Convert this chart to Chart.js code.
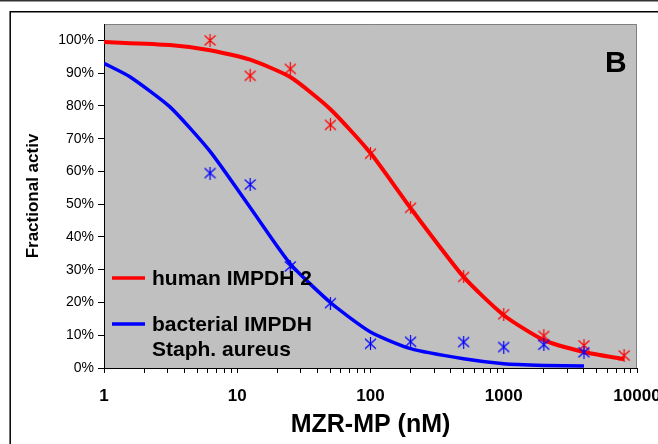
<!DOCTYPE html>
<html>
<head>
<meta charset="utf-8">
<script src="https://cdn.jsdelivr.net/npm/chart.js@4"></script>
<style>
  html, body { margin: 0; padding: 0; background: #fff; }
  #wrap { width: 658px; height: 444px; }
</style>
</head>
<body>
<div id="wrap"><canvas id="chart" width="658" height="444"></canvas></div>
<script>
// measured points (nM, fraction of activity)
const humanConc = [6.25, 12.5, 25, 50, 100, 200, 500, 1000, 2000, 4000, 8000];
const humanMeasured = [1.0, 0.892, 0.913, 0.742, 0.654, 0.489, 0.278, 0.164, 0.098, 0.069, 0.038];
const bactConc = [6.25, 12.5, 25, 50, 100, 200, 500, 1000, 2000, 4000];
const bactMeasured = [0.595, 0.56, 0.31, 0.198, 0.074, 0.08, 0.079, 0.064, 0.071, 0.048];

// fitted curves
const humanFitConc = [1, 3.125, 6.25, 12.5, 25, 50, 100, 200, 500, 1000, 2000, 4000, 8000];
const humanFit = [0.995, 0.986, 0.97, 0.941, 0.888, 0.79, 0.656, 0.488, 0.278, 0.161, 0.085, 0.049, 0.027];
const bactFitConc = [1, 1.5625, 3.125, 6.25, 12.5, 25, 50, 100, 200, 500, 1000, 2000, 4000];
const bactFit = [0.93, 0.889, 0.797, 0.661, 0.49, 0.318, 0.2, 0.11, 0.059, 0.028, 0.013, 0.008, 0.006];

const xTickLabels = [1, 10, 100, 1000, 10000];
const yTickValues = [0, 0.1, 0.2, 0.3, 0.4, 0.5, 0.6, 0.7, 0.8, 0.9, 1.0];
const yTickLabels = ['0%', '10%', '20%', '30%', '40%', '50%', '60%', '70%', '80%', '90%', '100%'];
const legendLabels = [['human IMPDH 2'], ['bacterial IMPDH', 'Staph. aureus']];
const panelLetter = 'B';

const RED = '#ff0000';
const BLUE = '#0000ff';
const FONT = '"Liberation Sans", Arial, sans-serif';

const toXY = (xs, ys) => xs.map((x, i) => ({ x: x, y: ys[i] }));

// excel style star marker: X with a vertical bar
function starMarker(color) {
  const c = document.createElement('canvas');
  c.width = 13; c.height = 13;
  const g = c.getContext('2d');
  g.strokeStyle = color;
  g.lineWidth = 1.2;
  g.beginPath();
  g.moveTo(1, 1.5); g.lineTo(12, 11.5);
  g.moveTo(12, 1.5); g.lineTo(1, 11.5);
  g.moveTo(6.5, 0); g.lineTo(6.5, 13);
  g.stroke();
  return c;
}

const decor = {
  id: 'decor',
  beforeDraw(chart) {
    const { ctx, chartArea: a, width, height } = chart;
    ctx.save();
    ctx.fillStyle = '#fff';
    ctx.fillRect(0, 0, width, height);
    ctx.strokeStyle = '#333';
    ctx.lineWidth = 1.5;
    ctx.beginPath(); ctx.moveTo(0, 0.75); ctx.lineTo(width, 0.75); ctx.stroke();
    ctx.strokeStyle = '#000';
    ctx.beginPath(); ctx.moveTo(width, 11.8); ctx.lineTo(10.2, 11.8); ctx.lineTo(10.2, height); ctx.stroke();
    ctx.fillStyle = '#c0c0c0';
    ctx.fillRect(a.left, a.top, a.right - a.left, a.bottom - a.top);
    ctx.strokeStyle = '#808080';
    ctx.lineWidth = 1;
    ctx.beginPath();
    ctx.moveTo(a.left, a.top + 0.5);
    ctx.lineTo(a.right - 0.5, a.top + 0.5);
    ctx.lineTo(a.right - 0.5, a.bottom);
    ctx.stroke();
    ctx.restore();
  },
  afterDatasetsDraw(chart) {
    const { ctx, chartArea: a } = chart;
    ctx.save();
    // legend inside the plot
    const colors = [RED, BLUE];
    const rows = [a.bottom - 90, a.bottom - 44];
    ctx.font = 'bold 21px ' + FONT;
    ctx.fillStyle = '#000';
    ctx.textBaseline = 'middle';
    legendLabels.forEach((lines, i) => {
      ctx.strokeStyle = colors[i];
      ctx.lineWidth = 3.5;
      ctx.beginPath();
      ctx.moveTo(a.left + 8, rows[i]);
      ctx.lineTo(a.left + 41, rows[i]);
      ctx.stroke();
      lines.forEach((t, j) => ctx.fillText(t, a.left + 48, rows[i] + 1 + j * 25));
    });
    ctx.font = 'bold 30px ' + FONT;
    ctx.textBaseline = 'alphabetic';
    ctx.fillText(panelLetter, a.right - 32, a.top + 48);
    ctx.restore();
  }
};

new Chart(document.getElementById('chart'), {
  type: 'scatter',
  data: {
    datasets: [
      {
        data: toXY(bactConc, bactMeasured),
        pointStyle: starMarker(BLUE),
        pointRadius: 6,
        borderColor: BLUE,
        backgroundColor: BLUE
      },
      {
        data: toXY(humanConc, humanMeasured),
        pointStyle: starMarker(RED),
        pointRadius: 6,
        borderColor: RED,
        backgroundColor: RED
      },
      {
        data: toXY(humanFitConc, humanFit),
        showLine: true,
        pointRadius: 0,
        borderColor: RED,
        borderWidth: 4,
        tension: 0.2
      },
      {
        data: toXY(bactFitConc, bactFit),
        showLine: true,
        pointRadius: 0,
        borderColor: BLUE,
        borderWidth: 3.5,
        tension: 0.2
      }
    ]
  },
  options: {
    responsive: false,
    animation: false,
    events: [],
    layout: { padding: { top: 24, right: 21, bottom: 0, left: 0 } },
    plugins: { legend: { display: false }, tooltip: { enabled: false } },
    scales: {
      x: {
        type: 'logarithmic',
        min: 1,
        max: 10000,
        border: { color: '#000', width: 1 },
        grid: { drawOnChartArea: false, drawTicks: true, tickLength: 5, color: '#000' },
        afterBuildTicks: (s) => {
          const ticks = [];
          for (let e = 0; e < xTickLabels.length - 1; e++) {
            for (let m = 1; m < 10; m++) ticks.push({ value: m * xTickLabels[e] });
          }
          ticks.push({ value: xTickLabels[xTickLabels.length - 1] });
          s.ticks = ticks;
        },
        afterFit: (s) => { s.height = 76; s.paddingLeft = 0; s.paddingRight = 0; },
        ticks: {
          autoSkip: false,
          maxRotation: 0,
          padding: 13,
          color: '#000',
          font: { family: FONT, size: 17, weight: 'bold' },
          callback: (v) => xTickLabels.includes(v) ? String(v) : ''
        },
        title: {
          display: true,
          text: 'MZR-MP (nM)',
          color: '#000',
          padding: { top: 0, bottom: 4 },
          font: { family: FONT, size: 25, weight: 'bold' }
        }
      },
      y: {
        min: 0,
        max: 1.05,
        border: { color: '#000', width: 1 },
        grid: { drawOnChartArea: false, drawTicks: true, tickLength: 6, color: '#000' },
        afterBuildTicks: (s) => { s.ticks = yTickValues.map(v => ({ value: v })); },
        afterFit: (s) => { s.width = 104; s.paddingTop = 0; s.paddingBottom = 0; },
        ticks: {
          padding: 4,
          color: '#000',
          font: { family: FONT, size: 14 },
          callback: (v) => yTickLabels[yTickValues.findIndex(t => Math.abs(t - v) < 1e-6)]
        },
        title: {
          display: true,
          text: 'Fractional activ',
          color: '#000',
          padding: { top: 23, bottom: 0 },
          font: { family: FONT, size: 17, weight: 'bold' }
        }
      }
    }
  },
  plugins: [decor]
});
</script>
</body>
</html>
